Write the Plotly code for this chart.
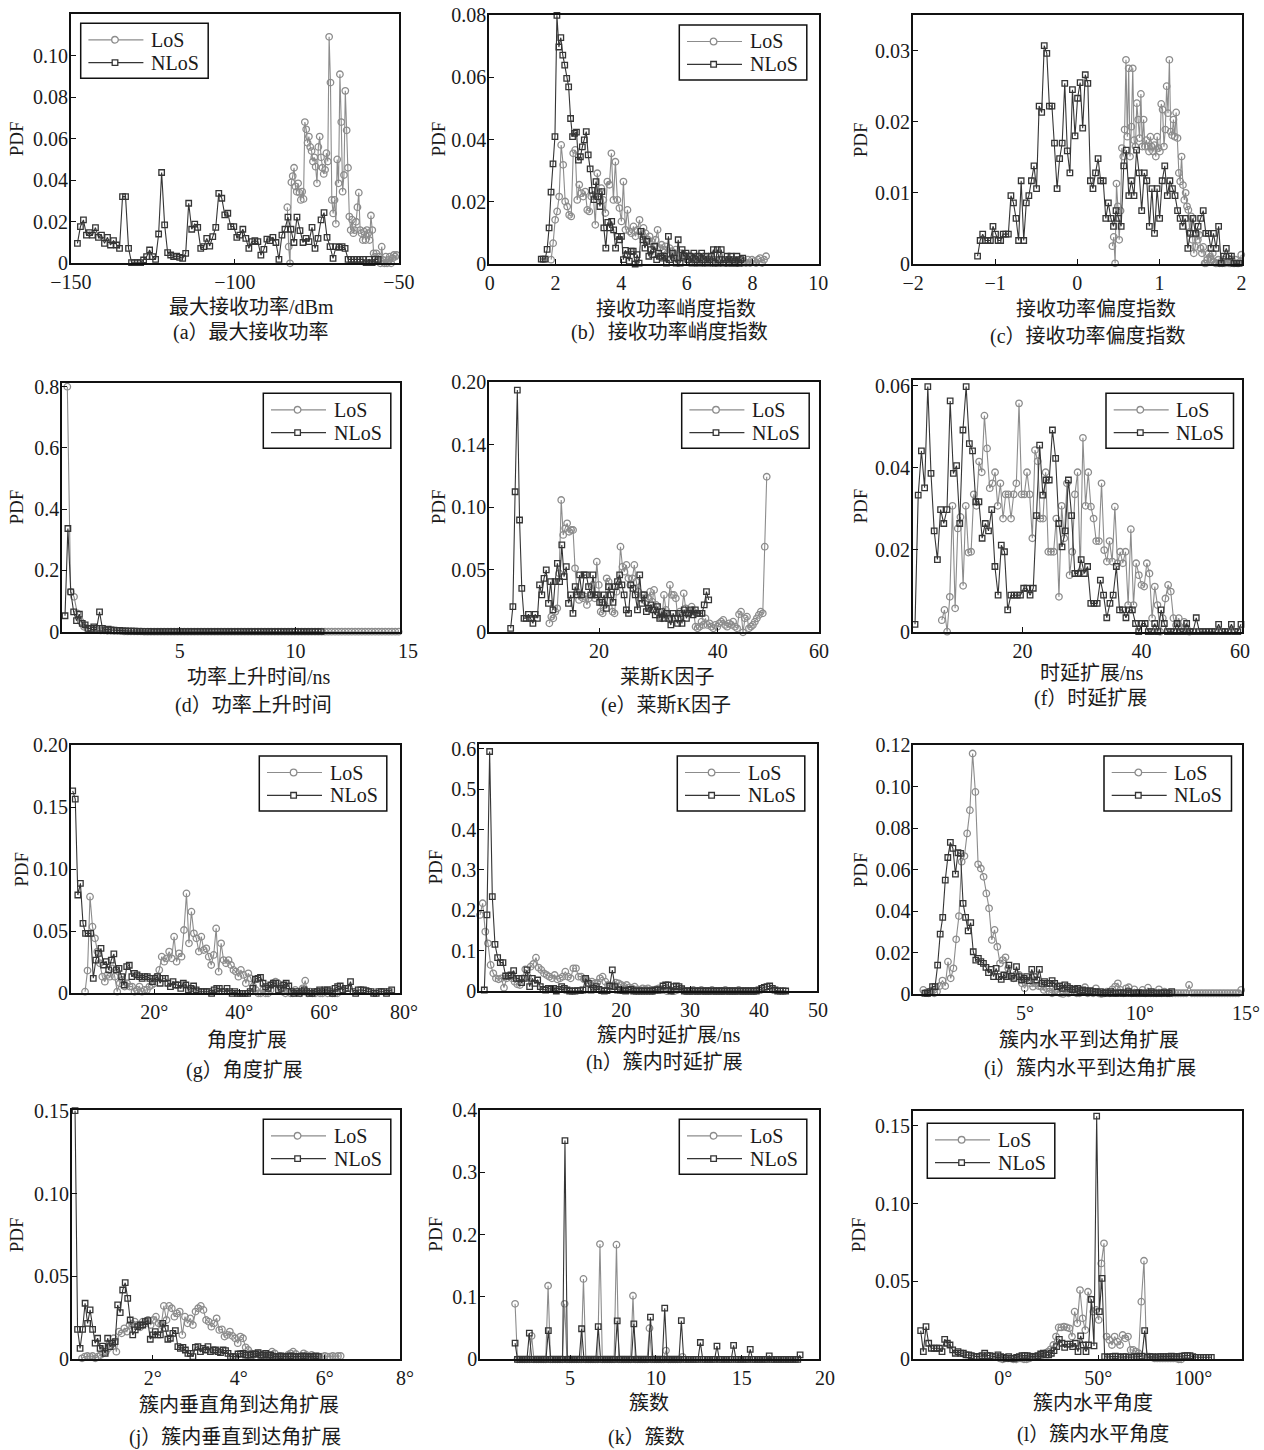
import numpy as np
import plotly.graph_objects as go

# ---------------------------------------------------------------------------
# PDF estimates: every series is (first bin centre, last bin centre) + values
# ---------------------------------------------------------------------------

# (a) 最大接收功率 / dBm
a_los_span = (-84.0, -50.7)
a_los_y = [0.027, 0.008, 0.0, 0.039, 0.042, 0.046, 0.037, 0.0345, 0.0385, 0.034, 0.0305, 0.0345, 0.031,
           0.068, 0.0645, 0.058, 0.061, 0.056, 0.054, 0.049, 0.051, 0.0465, 0.0385, 0.056, 0.061, 0.051,
           0.046, 0.043, 0.045, 0.053, 0.049, 0.109, 0.087, 0.0305, 0.024, 0.0305, 0.019, 0.05, 0.0385,
           0.091, 0.068, 0.0345, 0.0425, 0.083, 0.064, 0.046, 0.0225, 0.016, 0.021, 0.0145, 0.016, 0.020,
           0.027, 0.034, 0.016, 0.0145, 0.0112, 0.0152, 0.0112, 0.016, 0.0145, 0.0112, 0.023, 0.016,
           0.0048, 0.0032, 0.0048, 0.0016, 0.0032, 0.0, 0.008, 0.0016, 0.0, 0.0032, 0.0, 0.0016, 0.0032,
           0.0, 0.0024, 0.004, 0.0032, 0.004]
a_nlos_span = (-148.0, -56.3)
a_nlos_y = [0.0096, 0.0177, 0.0209, 0.0136, 0.0148, 0.0136, 0.0172, 0.0125, 0.0136, 0.0096,
            0.0125, 0.0088, 0.0109, 0.0088, 0.0072, 0.0321, 0.0321, 0.0072, 0.0003, 0.0003,
            0.0003, 0.0003, 0.0016, 0.0032, 0.0064, 0.0032, 0.0019, 0.0141, 0.0437, 0.0185,
            0.0051, 0.0040, 0.0032, 0.0035, 0.0029, 0.0024, 0.0048, 0.0289, 0.0164, 0.0189,
            0.0173, 0.0072, 0.0080, 0.0120, 0.0083, 0.0128, 0.0173, 0.0337, 0.0313, 0.0233,
            0.0241, 0.0177, 0.0177, 0.0125, 0.0136, 0.0164, 0.0120, 0.0072, 0.0104, 0.0109,
            0.0104, 0.0039, 0.0067, 0.0116, 0.0109, 0.0125, 0.0100, 0.0019, 0.0136, 0.0164,
            0.0222, 0.0164, 0.0100, 0.0222, 0.0157, 0.0100, 0.0120, 0.0104, 0.0173, 0.0072,
            0.0120, 0.0209, 0.0244, 0.0125, 0.0080, 0.0024, 0.0080, 0.0077, 0.0080, 0.0072,
            0.0019, 0.0019, 0.0019, 0.0019, 0.0019, 0.0019, 0.0003, 0.0019, 0.0003, 0.0019, 0.0019]

# (b) 接收功率峭度指数
b_los_span = (1.87, 8.41)
b_los_y = [0.0014, 0.0067, 0.0142, 0.0169, 0.0217, 0.0383, 0.0319, 0.0201, 0.0185, 0.0158,
           0.0153, 0.0356, 0.0367, 0.0206, 0.0255, 0.0228, 0.0217, 0.0233, 0.0174, 0.0169,
           0.0217, 0.0222, 0.0126, 0.0292, 0.0228, 0.0244, 0.0206, 0.0164, 0.0265, 0.0255,
           0.0356, 0.0206, 0.0329, 0.0206, 0.018, 0.0137, 0.0265, 0.011, 0.0174, 0.0105,
           0.0099, 0.0121, 0.0089, 0.011, 0.0142, 0.0089, 0.0116, 0.0099, 0.0078, 0.0089,
           0.0073, 0.0057, 0.0078, 0.011, 0.0051, 0.0062, 0.0046, 0.0057, 0.0035, 0.0051,
           0.0041, 0.003, 0.0046, 0.0025, 0.0035, 0.0019, 0.003, 0.0025, 0.0014, 0.0025,
           0.0009, 0.0019, 0.0003, 0.0019, 0.0009, 0.0014, 0.0003, 0.0019, 0.0009, 0.0019,
           0.0003, 0.0014, 0.0003, 0.0009, 0.0003, 0.0014, 0.0009, 0.0003, 0.0014, 0.0003,
           0.0009, 0.0003, 0.0009, 0.0003, 0.0014, 0.0003, 0.0009, 0.0003, 0.0014, 0.0003,
           0.0014, 0.0009, 0.0003, 0.0014, 0.0019, 0.0003, 0.0014, 0.0025]
b_nlos_span = (1.57, 7.70)
b_nlos_y = [0.0016, 0.0016, 0.0016, 0.0047, 0.0116, 0.0231, 0.0322, 0.041, 0.08, 0.0698,
            0.0728, 0.0672, 0.064, 0.0597, 0.057, 0.0468, 0.041, 0.042, 0.0424, 0.0334,
            0.0345, 0.0377, 0.0399, 0.0426, 0.0351, 0.0306, 0.0237, 0.0207, 0.0265, 0.0217,
            0.0185, 0.0233, 0.0116, 0.0051, 0.0134, 0.0116, 0.0137, 0.011, 0.0051, 0.0089,
            0.0078, 0.0089, 0.0014, 0.0044, 0.003, 0.0009, 0.0041, 0.0041, 0.0, 0.003,
            0.0003, 0.0105, 0.0078, 0.0051, 0.0073, 0.0025, 0.0046, 0.003, 0.0057, 0.0014,
            0.0035, 0.0025, 0.0019, 0.0025, 0.0003, 0.0089, 0.0014, 0.0035, 0.0019, 0.0003,
            0.0078, 0.0003, 0.0046, 0.0025, 0.0035, 0.0014, 0.0025, 0.0003, 0.0035, 0.0014,
            0.0025, 0.0003, 0.0035, 0.0014, 0.0025, 0.0003, 0.0014, 0.0025, 0.0046, 0.0003,
            0.0046, 0.0014, 0.0046, 0.0003, 0.0014, 0.0025, 0.0003, 0.0025, 0.0014, 0.0003,
            0.0025, 0.0003, 0.0014, 0.0019]

# (c) 接收功率偏度指数
c_los_span = (0.427, 1.996)
c_los_y = [0.0025, 0.0038, 0.0001, 0.0113, 0.0081, 0.0034, 0.0075, 0.0163, 0.0151, 0.0189,
           0.0287, 0.0179, 0.0275, 0.0151, 0.0193, 0.0275, 0.0174, 0.0165, 0.0226, 0.0203,
           0.0177, 0.0239, 0.0165, 0.0203, 0.0165, 0.0174, 0.0165, 0.0158, 0.0179, 0.0165,
           0.0158, 0.0167, 0.0151, 0.0179, 0.0163, 0.0158, 0.0225, 0.0217, 0.0165, 0.0189,
           0.025, 0.0212, 0.0287, 0.0186, 0.0181, 0.0203, 0.0179, 0.0213, 0.0177, 0.0128,
           0.0116, 0.0151, 0.0111, 0.009, 0.01, 0.0081, 0.0076, 0.0045, 0.0067, 0.0034,
           0.0015, 0.0024, 0.0043, 0.0034, 0.0041, 0.0022, 0.0015, 0.0024, 0.0001, 0.0001,
           0.0006, 0.0015, 0.001, 0.0006, 0.0015, 0.0003, 0.0001, 0.0001, 0.0006, 0.0001,
           0.0003, 0.0001, 0.0006, 0.0001, 0.001, 0.0003, 0.0001, 0.0001, 0.0006, 0.0001,
           0.0001, 0.0006, 0.0001, 0.0001, 0.0003, 0.0013]
c_nlos_span = (-1.215, 1.97)
c_nlos_y = [0.0011, 0.0033, 0.0042, 0.0033, 0.0033, 0.0033, 0.0053, 0.0042, 0.0033, 0.0033,
            0.0042, 0.0042, 0.0042, 0.0096, 0.0086, 0.0064, 0.0033, 0.0117, 0.0033, 0.0086,
            0.0096, 0.0117, 0.0138, 0.0106, 0.0222, 0.0213, 0.0307, 0.0296, 0.0222, 0.0222,
            0.017, 0.0106, 0.0148, 0.017, 0.0254, 0.0159, 0.0128, 0.0245, 0.018, 0.0233,
            0.0255, 0.0191, 0.0266, 0.0254, 0.0117, 0.0106, 0.0128, 0.0148, 0.0117, 0.0117,
            0.0064, 0.0086, 0.0064, 0.0053, 0.0075, 0.0064, 0.0053, 0.0138, 0.016, 0.0096,
            0.0117, 0.0096, 0.016, 0.0128, 0.0075, 0.0128, 0.0117, 0.0053, 0.0106, 0.0043,
            0.0106, 0.0064, 0.0117, 0.0138, 0.0096, 0.0117, 0.0106, 0.0096, 0.0075, 0.0064,
            0.0053, 0.0064, 0.0022, 0.0043, 0.0064, 0.0043, 0.0053, 0.0064, 0.0075, 0.0043,
            0.0043, 0.0022, 0.0043, 0.0022, 0.0053, 0.0001, 0.0011, 0.0022, 0.0011, 0.0011,
            0.0001, 0.0001, 0.0001]

# (d) 功率上升时间 / ns
d_los_span = (0.14, 14.45)
d_los_y = [0.8, 0.13, 0.114, 0.06, 0.033, 0.016, 0.011, 0.008, 0.006, 0.005,
           0.004, 0.004, 0.003, 0.003, 0.002, 0.002, 0.002, 0.001, 0.001, 0.001,
           0.001, 0.001, 0.001, 0, 0, 0, 0, 0, 0, 0,
           0, 0, 0, 0, 0, 0, 0, 0, 0, 0,
           0, 0, 0, 0, 0, 0, 0, 0, 0, 0,
           0, 0, 0, 0, 0, 0, 0, 0, 0, 0,
           0, 0, 0, 0, 0, 0, 0, 0, 0, 0,
           0, 0, 0, 0, 0, 0, 0, 0, 0, 0,
           0, 0, 0, 0, 0, 0, 0, 0, 0, 0,
           0, 0, 0, 0, 0, 0, 0, 0, 0, 0]
d_nlos_span = (0.04, 11.1)
d_nlos_y = [0.052, 0.337, 0.13, 0.065, 0.036, 0.057, 0.027, 0.022, 0.011, 0.011,
            0.016, 0.011, 0.065, 0.011, 0.006, 0.008, 0.006, 0.005, 0.004, 0.004,
            0.003, 0.003, 0.002, 0.002, 0.002, 0.001, 0.001, 0.001, 0.001, 0.001,
            0, 0, 0, 0, 0, 0, 0, 0, 0, 0,
            0, 0, 0, 0, 0, 0, 0, 0, 0, 0,
            0, 0, 0, 0, 0, 0, 0, 0, 0, 0,
            0, 0, 0, 0, 0, 0, 0, 0, 0, 0,
            0, 0, 0, 0, 0, 0, 0, 0, 0, 0,
            0, 0, 0, 0, 0, 0, 0, 0, 0, 0]

# (e) 莱斯K因子
e_los_span = (11.63, 48.26)
e_los_y = [0.0072, 0.0125, 0.0112, 0.0165, 0.0192, 0.0472, 0.1059, 0.0779, 0.0832, 0.0872,
           0.0805, 0.0819, 0.0819, 0.0512, 0.0325, 0.0259, 0.0299, 0.0272, 0.0285, 0.0219,
           0.0272, 0.0299, 0.0379, 0.0272, 0.0565, 0.0379, 0.0165, 0.0152, 0.0219, 0.0432,
           0.0405, 0.0299, 0.0165, 0.0152, 0.0325, 0.0379, 0.0685, 0.0525, 0.0485, 0.0539,
           0.0432, 0.0379, 0.0432, 0.0539, 0.0405, 0.0325, 0.0272, 0.0299, 0.0299, 0.0245,
           0.0272, 0.0325, 0.0245, 0.0339, 0.0219, 0.0165, 0.0125, 0.0112, 0.0299, 0.0179,
           0.0139, 0.0379, 0.0299, 0.0299, 0.0272, 0.0112, 0.0165, 0.0152, 0.0312, 0.0192,
           0.0165, 0.0165, 0.0205, 0.0165, 0.0045, 0.0032, 0.0045, 0.0085, 0.0059, 0.0112,
           0.0059, 0.0072, 0.0045, 0.0032, 0.0059, 0.0045, 0.0072, 0.0085, 0.0099, 0.0059,
           0.0045, 0.0072, 0.0059, 0.0085, 0.0045, 0.0032, 0.0144, 0.0165, 0.0, 0.0112,
           0.0125, 0.0032, 0.0045, 0.0059, 0.0085, 0.0112, 0.0139, 0.0165, 0.0152, 0.0685,
           0.1245]
e_nlos_span = (5.11, 38.48)
e_nlos_y = [0.0032, 0.0205, 0.1125, 0.1939, 0.0899, 0.0352, 0.0112, 0.0112, 0.0144, 0.0112,
            0.0072, 0.0144, 0.0112, 0.0379, 0.0299, 0.0432, 0.0499, 0.0232, 0.0405, 0.0179,
            0.0405, 0.0552, 0.0405, 0.0699, 0.0445, 0.0525, 0.0232, 0.0299, 0.0152, 0.0365,
            0.0299, 0.0459, 0.0299, 0.0459, 0.0459, 0.0365, 0.0299, 0.0459, 0.0299, 0.0299,
            0.024, 0.024, 0.0299, 0.0192, 0.0365, 0.0299, 0.024, 0.0365, 0.0405, 0.0459,
            0.0379, 0.0299, 0.0179, 0.0152, 0.0379, 0.0352, 0.0299, 0.0179, 0.0459, 0.0232,
            0.0299, 0.0165, 0.0192, 0.0219, 0.0179, 0.0139, 0.0205, 0.0112, 0.0165, 0.0112,
            0.0152, 0.0112, 0.0059, 0.0152, 0.0112, 0.0072, 0.0152, 0.0072, 0.0179, 0.0112,
            0.0152, 0.0179, 0.0139, 0.0179, 0.0152, 0.0152, 0.0152, 0.0219, 0.0325, 0.0259]

# (f) 时延扩展 / ns
f_los_span = (6.41, 48.07)
f_los_y = [0.0028, 0.0053, 0.0, 0.0085, 0.0307, 0.0057, 0.0252, 0.028, 0.0112, 0.0307,
           0.0193, 0.0195, 0.0335, 0.0307, 0.0415, 0.0389, 0.0527, 0.0447, 0.035, 0.0362,
           0.0389, 0.0307, 0.0362, 0.0276, 0.0335, 0.0335, 0.0276, 0.0335, 0.0362, 0.0557,
           0.0335, 0.0335, 0.0389, 0.0335, 0.0228, 0.0443, 0.0416, 0.0276, 0.0276, 0.0389,
           0.0195, 0.0195, 0.0195, 0.0276, 0.0085, 0.0307, 0.0228, 0.0362, 0.0138, 0.0195,
           0.0335, 0.0389, 0.0145, 0.0473, 0.0307, 0.0389, 0.0305, 0.0276, 0.0221, 0.0221,
           0.0362, 0.0199, 0.0171, 0.0221, 0.0171, 0.0305, 0.0167, 0.0195, 0.0167, 0.0195,
           0.0065, 0.025, 0.0065, 0.0167, 0.0138, 0.0114, 0.011, 0.0167, 0.0142, 0.0033,
           0.011, 0.0065, 0.0, 0.0033, 0.0081, 0.0114, 0.0098, 0.0033, 0.0016, 0.0033,
           0.0008, 0.0024, 0.0008, 0.0]
f_nlos_span = (1.9, 56.75)
f_nlos_y = [0.0018, 0.0333, 0.0441, 0.0351, 0.0598, 0.0386, 0.0246, 0.0176, 0.0298, 0.0264,
            0.0298, 0.0563, 0.0386, 0.0405, 0.0264, 0.0492, 0.0598, 0.0459, 0.0441, 0.0317,
            0.0317, 0.0228, 0.0264, 0.0246, 0.0298, 0.0159, 0.0089, 0.0211, 0.0195, 0.0053,
            0.0089, 0.0089, 0.0089, 0.0089, 0.0106, 0.0106, 0.0089, 0.0106, 0.0283, 0.0455,
            0.0333, 0.037, 0.037, 0.0492, 0.0423, 0.0264, 0.0207, 0.0246, 0.037, 0.0283,
            0.0142, 0.0142, 0.0176, 0.0142, 0.0159, 0.0069, 0.0069, 0.0069, 0.0126, 0.0089,
            0.0034, 0.0069, 0.0089, 0.0159, 0.0053, 0.0053, 0.0034, 0.0053, 0.0053, 0.002,
            0.0, 0.002, 0.002, 0.0, 0.0, 0.002, 0.0, 0.0053, 0.002, 0.0,
            0.0, 0.0, 0.002, 0.0, 0.0, 0.002, 0.0, 0.0, 0.0034, 0.0,
            0.0, 0.0, 0.0, 0.0, 0.0, 0.0018, 0.0, 0.0, 0.0, 0.0018,
            0.0, 0.0, 0.0018]

# (g) 角度扩展 / deg
g_los_span = (3.69, 63.06)
g_los_y = [0.0013, 0.0183, 0.0779, 0.0537, 0.0443, 0.0336, 0.0242, 0.0134, 0.0094, 0.0148,
           0.0134, 0.0201, 0.0134, 0.0013, 0.0081, 0.0107, 0.0054, 0.0081, 0.0054, 0.0054,
           0.0013, 0.0027, 0.0054, 0.0013, 0.0027, 0.0027, 0.0054, 0.0067, 0.0081, 0.0134,
           0.0188, 0.0295, 0.0255, 0.0282, 0.0336, 0.0282, 0.0456, 0.0255, 0.0322, 0.0295,
           0.051, 0.0805, 0.0403, 0.0658, 0.0483, 0.0443, 0.0336, 0.0456, 0.0349, 0.0362,
           0.0295, 0.0228, 0.0309, 0.0523, 0.0174, 0.0403, 0.0268, 0.0242, 0.0268, 0.0228,
           0.0188, 0.0174, 0.0134, 0.0188, 0.0148, 0.0081, 0.0161, 0.0121, 0.0054, 0.0027,
           0.0, 0.0, 0.0027, 0.0, 0.0, 0.0027, 0.0081, 0.0094, 0.0081, 0.0054,
           0.0013, 0.0, 0.0013, 0.0, 0.0, 0.0027, 0.0013, 0.0, 0.004, 0.0102,
           0.0, 0.0013, 0.0, 0.0, 0.0013, 0.0, 0.0, 0.0013, 0.0, 0.0027,
           0.0, 0.0, 0.0]
g_nlos_span = (0.78, 75.84)
g_nlos_y = [0.1632, 0.1565, 0.0792, 0.0886, 0.0564, 0.0483, 0.0483, 0.0483, 0.0121, 0.0268,
            0.0322, 0.0362, 0.0228, 0.0255, 0.0188, 0.0268, 0.0317, 0.0188, 0.0201, 0.0134,
            0.0067, 0.0215, 0.0226, 0.0134, 0.0161, 0.0148, 0.0134, 0.0121, 0.0134, 0.0134,
            0.0121, 0.0094, 0.0121, 0.0134, 0.0081, 0.0121, 0.0121, 0.0081, 0.0054, 0.0094,
            0.0067, 0.0067, 0.004, 0.0081, 0.0067, 0.0027, 0.004, 0.0059, 0.0027, 0.0013,
            0.0013, 0.0013, 0.0013, 0.0013, 0.0, 0.0027, 0.004, 0.004, 0.0013, 0.0013,
            0.004, 0.0013, 0.0, 0.0013, 0.0, 0.0, 0.0, 0.0, 0.0, 0.0013,
            0.004, 0.0113, 0.0121, 0.0129, 0.0081, 0.0054, 0.004, 0.0067, 0.0081, 0.0081,
            0.0027, 0.004, 0.0067, 0.0081, 0.0059, 0.0013, 0.0, 0.0013, 0.0, 0.0013,
            0.0027, 0.0013, 0.0, 0.0, 0.0013, 0.0013, 0.0027, 0.0013, 0.0027, 0.0027,
            0.0013, 0.0, 0.004, 0.0054, 0.0059, 0.0027, 0.004, 0.004, 0.0094, 0.0013,
            0.0, 0.0027, 0.0027, 0.0027, 0.0021, 0.0013, 0.0013, 0.0, 0.0, 0.0013,
            0.0013, 0.0013, 0.0, 0.0013, 0.0027]

# (h) 簇内时延扩展 / ns
h_los_span = (-0.5, 39.37)
h_los_y = [0.1884, 0.2174, 0.1471, 0.1182, 0.0645, 0.0438, 0.0314, 0.0289, 0.0314, 0.0083,
           0.0314, 0.0372, 0.0314, 0.0231, 0.0165, 0.0149, 0.0314, 0.0537, 0.0355, 0.0603,
           0.0669, 0.0826, 0.0579, 0.0521, 0.0438, 0.0397, 0.0355, 0.0314, 0.0397, 0.0289,
           0.0314, 0.0355, 0.0479, 0.0355, 0.0314, 0.0562, 0.0562, 0.0355, 0.0355, 0.0289,
           0.0273, 0.019, 0.0231, 0.019, 0.0207, 0.0314, 0.0355, 0.0231, 0.0149, 0.0107,
           0.0124, 0.0207, 0.019, 0.0149, 0.0107, 0.0149, 0.0091, 0.0066, 0.0107, 0.0041,
           0.0025, 0.0066, 0.0041, 0.0066, 0.0025, 0.0, 0.0041, 0.0066, 0.0041, 0.0058,
           0.0, 0.0025, 0.0, 0.0, 0.0025, 0.0058, 0.0025, 0.0, 0.0, 0.0,
           0.0025, 0.0, 0.0, 0.0025, 0.0, 0.0, 0.0, 0.0025, 0.0, 0.0,
           0.0, 0.0, 0.0025, 0.0, 0.0, 0.0, 0.0, 0.0025, 0.0, 0.0,
           0.0, 0.0, 0.0, 0.0]
h_nlos_span = (0.13, 43.87)
h_nlos_y = [0.0025, 0.1884, 0.5934, 0.2339, 0.1157, 0.0826, 0.0702, 0.0702, 0.0372, 0.0372,
            0.0397, 0.0504, 0.0314, 0.0314, 0.0207, 0.0314, 0.0521, 0.0107, 0.0314, 0.019,
            0.0273, 0.0107, 0.0041, 0.0025, 0.0066, 0.0041, 0.0066, 0.0, 0.0041, 0.0107,
            0.0066, 0.0025, 0.0, 0.0, 0.0, 0.0008, 0.0008, 0.0025, 0.0314, 0.019,
            0.0025, 0.0066, 0.0107, 0.0041, 0.0008, 0.0, 0.0008, 0.0124, 0.0521, 0.0107,
            0.0025, 0.0025, 0.0008, 0.0, 0.0025, 0.0041, 0.0, 0.0, 0.0, 0.0,
            0.0, 0.0, 0.0, 0.0, 0.0025, 0.0025, 0.0025, 0.0124, 0.0149, 0.0149,
            0.0, 0.0107, 0.0124, 0.0107, 0.0058, 0.0, 0.0,
            0.0, 0.0, 0.0, 0.0, 0.0, 0.0, 0.0, 0.0, 0.0, 0.0,
            0.0, 0.0, 0.0, 0.0, 0.0, 0.0, 0.0, 0.0, 0.0, 0.0,
            0.0, 0.0, 0.0, 0.0, 0.0, 0.0,
            0.0025, 0.0066, 0.0091, 0.0107, 0.0124, 0.0066, 0.0025, 0.0, 0.0, 0.0, 0.0]

# (i) 簇内水平到达角扩展 / deg
i_los_span = (0.58, 14.40)
i_los_y = [0.0021, 0.0008, 0.0005, 0.0018, 0.0005, 0.0013, 0.004, 0.0066, 0.004, 0.0157,
           0.0077, 0.0125, 0.0265, 0.0377, 0.0639, 0.0666, 0.0775, 0.0887, 0.116, 0.0975,
           0.0626, 0.0606, 0.0566, 0.0486, 0.0414, 0.0262, 0.031, 0.0229, 0.0149, 0.0165,
           0.0178, 0.0125, 0.0085, 0.0077, 0.0098, 0.0093, 0.0053, 0.0029, 0.0066, 0.0053,
           0.0037, 0.0053, 0.004, 0.0037, 0.0021, 0.0029, 0.0013, 0.0005, 0.0018, 0.0013,
           0.0005, 0.0002, 0.0018, 0.0005, 0.0013, 0.0024, 0.0005, 0.0005, 0.0013, 0.0034,
           0.0005, 0.0013, 0.0005, 0.0029, 0.0005, 0.0002, 0.0005, 0.0013, 0.0005, 0.0024,
           0.0037, 0.0053, 0.0021, 0.0005, 0.0029, 0.0034, 0.0005, 0.0024, 0.0005, 0.0005,
           0.0021, 0.0005, 0.0032, 0.0005, 0.0005, 0.0005, 0.0024, 0.0005, 0.0013, 0.0005,
           0.0005, 0.0005, 0.0005, 0.0005, 0.0005, 0.0005, 0.0005, 0.0045, 0.0005, 0.0005,
           0.0005, 0.0005, 0.0005, 0.0005, 0.0005, 0.0005, 0.0005, 0.0005, 0.0005, 0.0005,
           0.0005, 0.0005, 0.0005, 0.0005, 0.0005, 0.0005, 0.0021]
i_nlos_span = (0.65, 11.38)
i_nlos_y = [0.0005, 0.0005, 0.0013, 0.0037, 0.0037, 0.0141, 0.029, 0.0371, 0.055, 0.0659,
            0.0732, 0.0703, 0.0579, 0.0682, 0.0679, 0.0438, 0.0371, 0.0306, 0.0345, 0.0205,
            0.0165, 0.0173, 0.0157, 0.0149, 0.013, 0.0104, 0.012, 0.0085, 0.0125, 0.0085,
            0.0072, 0.0093, 0.0085, 0.0141, 0.0088, 0.0077, 0.0133, 0.0085, 0.0069, 0.0077,
            0.0085, 0.0066, 0.012, 0.0085, 0.0069, 0.012, 0.0053, 0.0061, 0.0053, 0.0053,
            0.0066, 0.0053, 0.0037, 0.004, 0.0029, 0.0045, 0.0037, 0.0029, 0.0021, 0.0024,
            0.0029, 0.0018, 0.0021, 0.0018, 0.0013, 0.0018, 0.0013, 0.0013, 0.0008, 0.0013,
            0.0005, 0.0008, 0.0005, 0.0013, 0.0005, 0.0005,
            0.0005, 0.0008, 0.0005, 0.0005, 0.0013, 0.0005, 0.0005, 0.0005, 0.0008, 0.0005,
            0.0005, 0.0005, 0.0005, 0.0013, 0.0005, 0.0005, 0.0005, 0.0005, 0.0008, 0.0005,
            0.0005, 0.0013]

# (j) 簇内垂直到达角扩展 / deg
j_los_span = (0.357, 6.37)
j_los_y = [0.0006, 0.0016, 0.002, 0.0016, 0.002, 0.0006, 0.0016, 0.0026, 0.0036, 0.0046,
           0.0066, 0.0086, 0.0127, 0.0046, 0.0167, 0.0157, 0.0187, 0.0167, 0.0207, 0.0213,
           0.0227, 0.0207, 0.0193, 0.0227, 0.0217, 0.0237, 0.0207, 0.0237, 0.0257, 0.0217,
           0.0207, 0.0322, 0.0237, 0.0322, 0.0308, 0.0257, 0.0277, 0.0288, 0.0147, 0.0257,
           0.0217, 0.0247, 0.0207, 0.0288, 0.0308, 0.0322, 0.0298, 0.0237, 0.0227, 0.0197,
           0.0217, 0.0247, 0.0177, 0.0181, 0.0137, 0.0147, 0.0167, 0.0141, 0.0127, 0.0097,
           0.0137, 0.0127, 0.0072, 0.0056, 0.0036, 0.0026, 0.0016, 0.0036, 0.002, 0.0016,
           0.0016, 0.0016, 0.0046, 0.0036, 0.0016, 0.002, 0.0016, 0.0016, 0.0026, 0.0036,
           0.0046, 0.0032, 0.0016, 0.002, 0.0036, 0.0026, 0.0016, 0.0026, 0.0016, 0.0016,
           0.0016, 0.0016, 0.002, 0.0016, 0.0016, 0.002, 0.0016, 0.002, 0.002]
j_nlos_span = (0.194, 5.85)
j_nlos_y = [0.15, 0.0181, 0.0066, 0.0181, 0.0338, 0.0217, 0.0298, 0.0181, 0.0097, 0.0127,
            0.0066, 0.008, 0.0036, 0.0127, 0.0076, 0.0097, 0.0107, 0.0328, 0.0282, 0.0418,
            0.0462, 0.0368, 0.0237, 0.0147, 0.0177, 0.0197, 0.0207, 0.0207, 0.0227, 0.0233,
            0.0121, 0.0147, 0.0167, 0.0147, 0.0147, 0.0217, 0.0187, 0.0121, 0.0127, 0.0157,
            0.0173, 0.0076, 0.0066, 0.0072, 0.0056, 0.0036, 0.0036, 0.0016, 0.0072, 0.0076,
            0.0046, 0.0066, 0.0056, 0.0076, 0.0046, 0.0056, 0.0056, 0.0046, 0.004, 0.0056,
            0.0052, 0.0036, 0.0016, 0.0016, 0.0016, 0.0032, 0.0032, 0.0036, 0.0026, 0.0026,
            0.0026, 0.0032, 0.0032, 0.004, 0.0026, 0.0026, 0.0036, 0.0026, 0.0026, 0.0016,
            0.0016, 0.0016, 0.002, 0.0016, 0.0016, 0.0016, 0.002, 0.0016, 0.0016, 0.0016,
            0.0016, 0.002, 0.0016, 0.0016, 0.0016, 0.0016, 0.002, 0.0016]

# (k) 簇数
k_los_span = (1.80, 11.55)
k_los_y = [0.089, 0, 0, 0, 0, 0, 0, 0.0375, 0, 0,
           0, 0, 0, 0, 0.118, 0, 0, 0, 0, 0,
           0, 0.089, 0, 0, 0, 0, 0, 0, 0, 0.129,
           0, 0, 0, 0, 0, 0, 0.185, 0, 0, 0,
           0, 0, 0, 0.184, 0, 0, 0, 0, 0, 0,
           0.102, 0, 0, 0, 0, 0, 0, 0.05, 0, 0,
           0, 0, 0, 0, 0.014, 0, 0, 0, 0, 0,
           0, 0.004]
k_nlos_span = (1.80, 18.40)
k_nlos_y = [0.026, 0, 0, 0, 0, 0, 0.042, 0, 0, 0,
            0, 0, 0, 0, 0.046, 0, 0, 0, 0, 0,
            0, 0.351, 0, 0, 0, 0, 0, 0, 0.049, 0,
            0, 0, 0, 0, 0, 0.0525, 0, 0, 0, 0,
            0, 0, 0, 0.0617, 0, 0, 0, 0, 0, 0,
            0.057, 0, 0, 0, 0, 0, 0, 0.0676, 0, 0,
            0, 0, 0, 0.082, 0, 0, 0, 0, 0, 0,
            0.062, 0, 0, 0, 0, 0, 0, 0, 0.027, 0,
            0, 0, 0, 0, 0, 0.021, 0, 0, 0, 0,
            0, 0, 0.0225, 0, 0, 0, 0, 0, 0, 0.016,
            0, 0, 0, 0, 0, 0, 0, 0.0054, 0, 0,
            0, 0, 0, 0, 0, 0, 0, 0, 0, 0,
            0.007]

# (l) 簇内水平角度 / deg
l_los_span = (-1.75, 93.7)
l_los_y = [0.0006, 0.0, 0.0006, 0.0006, 0.0006, 0.0, 0.0, 0.0006, 0.0006, 0.0,
           0.0, 0.0006, 0.0017, 0.0017, 0.0017, 0.0021, 0.0028, 0.0039, 0.0049, 0.0064,
           0.0092, 0.0146, 0.0205, 0.0205, 0.021, 0.0205, 0.0199, 0.0146, 0.0306, 0.0231,
           0.0445, 0.0263, 0.0188, 0.0434, 0.0385, 0.0306, 0.0317, 0.0253, 0.0616, 0.0745,
           0.0146, 0.0124, 0.0092, 0.0146, 0.0113, 0.0092, 0.0156, 0.0135, 0.0146, 0.006,
           0.006, 0.0049, 0.0039, 0.037, 0.0633, 0.0017, 0.0017, 0.0013, 0.0006, 0.0006,
           0.0006, 0.0006, 0.0006, 0.0006, 0.0006, 0.0006, 0.0006, 0.0, 0.0]
l_nlos_span = (-43.5, 109.5)
l_nlos_y = [0.0184, 0.0049, 0.021, 0.0103, 0.0071, 0.0071, 0.0071, 0.0071, 0.0049, 0.0128,
            0.0103, 0.0092, 0.006, 0.0039, 0.0049, 0.0039, 0.0039, 0.0028, 0.0028, 0.0024,
            0.0017, 0.0017, 0.0017, 0.0024, 0.0039, 0.0024, 0.0024, 0.0017, 0.0017, 0.0028,
            0.0017, 0.0013, 0.0006, 0.0017, 0.0006, 0.0006, 0.0013, 0.0017, 0.0024, 0.0024,
            0.0024, 0.0017, 0.0017, 0.0017, 0.0024, 0.0034, 0.0039, 0.0028, 0.0028, 0.0039,
            0.0056, 0.0081, 0.0128, 0.0103, 0.0077, 0.0098, 0.0098, 0.0081, 0.0103, 0.0049,
            0.015, 0.0092, 0.0049, 0.0092, 0.0385, 0.0086, 0.1562, 0.0306, 0.052, 0.0017,
            0.0013, 0.0017, 0.0017, 0.0021, 0.0017, 0.0013, 0.0017, 0.0017, 0.0013, 0.0013,
            0.0017, 0.0017, 0.0017, 0.0021, 0.0184, 0.0013, 0.0017, 0.0017, 0.0013, 0.0017,
            0.0017, 0.0017, 0.0017, 0.0017, 0.0021, 0.0017, 0.0017, 0.0017, 0.0021, 0.0024,
            0.0024, 0.0024, 0.0017, 0.0013, 0.0013, 0.0013, 0.0013, 0.0013, 0.0013, 0.0013]

# ---------------------------------------------------------------------------
# page geometry and styling
# ---------------------------------------------------------------------------
W, H = 1264, 1450
SERIF = "Liberation Serif, Noto Sans CJK SC, serif"
TXT = "#1a1a1a"
LOS_C = "#8c8c8c"
NLOS_C = "#353535"
TICK_SIZE = 20


def fx(px):
    return px / W


def fy(px):
    return 1 - px / H


def deg(vals):
    return [f"{v}°" for v in vals]


def num(vals):
    return [("−" + str(abs(v))) if v < 0 else str(v) for v in vals]


panels = [
    dict(los=(a_los_span, a_los_y), nlos=(a_nlos_span, a_nlos_y),
         box=(70.7, 14.0, 399.0, 263.3), xr=[-150.05, -49.95], yr=[0, 0.12],
         xt=[-150, -100, -50], xtt=num([-150, -100, -50]),
         yt=[0, 0.02, 0.04, 0.06, 0.08, 0.10], ytt=["0", "0.02", "0.04", "0.06", "0.08", "0.10"],
         title="最大接收功率/dBm", title_xy=(251, 307), cap="(a）最大接收功率", cap_xy=(251, 333),
         pdf_x=16.7, legend=(80.7, 23.3), edge=None),
    dict(los=(b_los_span, b_los_y), nlos=(b_nlos_span, b_nlos_y),
         box=(489.0, 15.0, 819.0, 264.0), xr=[-0.02, 10.02], yr=[0, 0.0801],
         xt=[0, 2, 4, 6, 8, 10], xtt=num([0, 2, 4, 6, 8, 10]),
         yt=[0, 0.02, 0.04, 0.06, 0.08], ytt=["0", "0.02", "0.04", "0.06", "0.08"],
         title="接收功率峭度指数", title_xy=(676, 309), cap="(b）接收功率峭度指数", cap_xy=(669, 333),
         pdf_x=438, legend=(679.3, 25.0), edge=None),
    dict(los=(c_los_span, c_los_y), nlos=(c_nlos_span, c_nlos_y),
         box=(912.7, 15.0, 1242.0, 264.0), xr=[-2.005, 2.005], yr=[0, 0.035],
         xt=[-2, -1, 0, 1, 2], xtt=num([-2, -1, 0, 1, 2]),
         yt=[0, 0.01, 0.02, 0.03], ytt=["0", "0.01", "0.02", "0.03"],
         title="接收功率偏度指数", title_xy=(1096, 309), cap="(c）接收功率偏度指数", cap_xy=(1088, 336),
         pdf_x=860.7, legend=None, edge=None),
    dict(los=(d_los_span, d_los_y), nlos=(d_nlos_span, d_nlos_y),
         box=(62.0, 383.3, 400.0, 631.7), xr=[-0.09, 14.51], yr=[0, 0.811],
         xt=[5, 10], xtt=["5", "10"],
         yt=[0, 0.2, 0.4, 0.6, 0.8], ytt=["0", "0.2", "0.4", "0.6", "0.8"],
         title="功率上升时间/ns", title_xy=(259, 677), cap="(d）功率上升时间", cap_xy=(254, 705),
         pdf_x=16.0, legend=(263.3, 393.3), edge=("15", 408.3)),
    dict(los=(e_los_span, e_los_y), nlos=(e_nlos_span, e_nlos_y),
         box=(489.0, 382.3, 819.0, 632.3), xr=[1.46, 57.07], yr=[0, 0.2001],
         xt=[20, 40], xtt=["20", "40"],
         yt=[0, 0.05, 0.10, 0.15, 0.20], ytt=["0", "0.05", "0.10", "0.14", "0.20"],
         title="莱斯K因子", title_xy=(667, 677), cap="(e）莱斯K因子", cap_xy=(666, 705),
         pdf_x=438, legend=(681.7, 393.3), edge=("60", 819.0)),
    dict(los=(f_los_span, f_los_y), nlos=(f_nlos_span, f_nlos_y),
         box=(912.7, 380.0, 1242.0, 631.7), xr=[1.51, 56.92], yr=[0, 0.0614],
         xt=[20, 40], xtt=["20", "40"],
         yt=[0, 0.02, 0.04, 0.06], ytt=["0", "0.02", "0.04", "0.06"],
         title="时延扩展/ns", title_xy=(1092, 673), cap="(f）时延扩展", cap_xy=(1090, 698),
         pdf_x=860.7, legend=(1106.0, 393.3), edge=("60", 1240.0)),
    dict(los=(g_los_span, g_los_y), nlos=(g_nlos_span, g_nlos_y),
         box=(70.7, 745.0, 400.0, 993.3), xr=[0.31, 77.8], yr=[0, 0.2001],
         xt=[20, 40, 60], xtt=deg([20, 40, 60]),
         yt=[0, 0.05, 0.10, 0.15, 0.20], ytt=["0", "0.05", "0.10", "0.15", "0.20"],
         title="角度扩展", title_xy=(247, 1040), cap="(g）角度扩展", cap_xy=(244, 1070),
         pdf_x=20.7, legend=(259.3, 756.0), edge=("80°", 404.0)),
    dict(los=(h_los_span, h_los_y), nlos=(h_nlos_span, h_nlos_y),
         box=(479.0, 744.0, 817.3, 991.0), xr=[-0.64, 48.46], yr=[0, 0.612],
         xt=[10, 20, 30, 40], xtt=["10", "20", "30", "40"],
         yt=[0, 0.1, 0.2, 0.3, 0.4, 0.5, 0.6], ytt=["0", "0.1", "0.2", "0.3", "0.4", "0.5", "0.6"],
         title="簇内时延扩展/ns", title_xy=(669, 1035), cap="(h）簇内时延扩展", cap_xy=(664, 1062),
         pdf_x=435, legend=(677.3, 756.0), edge=("50", 818.3)),
    dict(los=(i_los_span, i_los_y), nlos=(i_nlos_span, i_nlos_y),
         box=(913.3, 745.0, 1242.3, 994.3), xr=[0.145, 14.45], yr=[0, 0.1201],
         xt=[5, 10], xtt=deg([5, 10]),
         yt=[0, 0.02, 0.04, 0.06, 0.08, 0.10, 0.12],
         ytt=["0", "0.02", "0.04", "0.06", "0.08", "0.10", "0.12"],
         title="簇内水平到达角扩展", title_xy=(1089, 1040), cap="(i）簇内水平到达角扩展", cap_xy=(1090, 1068),
         pdf_x=860.7, legend=(1104.0, 756.0), edge=("15°", 1246.0)),
    dict(los=(j_los_span, j_los_y), nlos=(j_nlos_span, j_nlos_y),
         box=(71.7, 1110.0, 400.0, 1359.3), xr=[0.116, 7.75], yr=[0, 0.1504],
         xt=[2, 4, 6], xtt=deg([2, 4, 6]),
         yt=[0, 0.05, 0.10, 0.15], ytt=["0", "0.05", "0.10", "0.15"],
         title="簇内垂直角到达角扩展", title_xy=(239, 1405), cap="(j）簇内垂直到达角扩展", cap_xy=(235, 1437),
         pdf_x=16.7, legend=(263.3, 1119.3), edge=("8°", 405.0)),
    dict(los=(k_los_span, k_los_y), nlos=(k_nlos_span, k_nlos_y),
         box=(480.0, 1110.0, 819.0, 1359.3), xr=[-0.243, 19.5], yr=[0, 0.4001],
         xt=[5, 10, 15], xtt=["5", "10", "15"],
         yt=[0, 0.1, 0.2, 0.3, 0.4], ytt=["0", "0.1", "0.2", "0.3", "0.4"],
         title="簇数", title_xy=(649, 1403), cap="(k）簇数", cap_xy=(647, 1437),
         pdf_x=436, legend=(679.3, 1119.3), edge=("20", 825.0)),
    dict(los=(l_los_span, l_los_y), nlos=(l_nlos_span, l_nlos_y),
         box=(912.7, 1110.7, 1242.3, 1359.3), xr=[-47.7, 125.8], yr=[0, 0.1597],
         xt=[0, 50, 100], xtt=deg([0, 50, 100]),
         yt=[0, 0.05, 0.10, 0.15], ytt=["0", "0.05", "0.10", "0.15"],
         title="簇内水平角度", title_xy=(1093, 1403), cap="(l）簇内水平角度", cap_xy=(1093, 1434),
         pdf_x=858.3, legend=(927.3, 1123.3), edge=None),
]

fig = go.Figure()
layout = dict(width=W, height=H, margin=dict(l=0, r=0, t=0, b=0, autoexpand=False),
              paper_bgcolor="white", plot_bgcolor="white", showlegend=False,
              font=dict(family=SERIF, color=TXT))

tick_font = dict(family=SERIF, size=TICK_SIZE, color=TXT)
text_font = dict(family=SERIF, size=20, color=TXT)

for n, p in enumerate(panels, start=1):
    xa, ya = ("x", "y") if n == 1 else (f"x{n}", f"y{n}")
    x0, y0, x1, y1 = p["box"]

    for (span, vals), color, symbol, size in [(p["los"], LOS_C, "circle-open", 6.5),
                                              (p["nlos"], NLOS_C, "square-open", 5.5)]:
        xs = np.linspace(span[0], span[1], len(vals))
        fig.add_trace(go.Scatter(
            x=xs, y=vals, mode="lines+markers", xaxis=xa, yaxis=ya, cliponaxis=False,
            line=dict(color=color, width=1.1),
            marker=dict(symbol=symbol, size=size, color=color, line=dict(width=1.3, color=color)),
            hoverinfo="skip"))

    axis_common = dict(showline=True, linecolor="#111111", linewidth=1.6, mirror=True,
                       showgrid=False, zeroline=False, ticks="inside", ticklen=5,
                       tickwidth=1, tickcolor="#111111", tickfont=tick_font, automargin=False)
    layout["xaxis" if n == 1 else f"xaxis{n}"] = dict(
        domain=[fx(x0), fx(x1)], range=p["xr"], anchor=ya,
        tickmode="array", tickvals=p["xt"], ticktext=p["xtt"], ticklabelstandoff=0, **axis_common)
    layout["yaxis" if n == 1 else f"yaxis{n}"] = dict(
        domain=[fy(y1), fy(y0)], range=p["yr"], anchor=xa,
        tickmode="array", tickvals=p["yt"], ticktext=p["ytt"], ticklabelstandoff=-3, **axis_common)

    # axis title, caption and PDF label
    fig.add_annotation(xref="paper", yref="paper", x=fx(p["title_xy"][0]), y=fy(p["title_xy"][1]),
                       text=p["title"], showarrow=False, xanchor="center", yanchor="middle", font=text_font)
    fig.add_annotation(xref="paper", yref="paper", x=fx(p["cap_xy"][0]), y=fy(p["cap_xy"][1]),
                       text=p["cap"], showarrow=False, xanchor="center", yanchor="middle", font=text_font)
    fig.add_annotation(xref="paper", yref="paper", x=fx(p["pdf_x"]), y=fy((y0 + y1) / 2),
                       text="PDF", textangle=-90, showarrow=False, xanchor="center", yanchor="middle",
                       font=dict(family=SERIF, size=19, color=TXT))

    # last x tick label sitting at the right frame edge
    if p["edge"] is not None:
        txt, cx = p["edge"]
        fig.add_annotation(xref="paper", yref="paper", x=fx(cx), y=fy(y1 + 19),
                           text=txt, showarrow=False, xanchor="center", yanchor="middle", font=tick_font)

    # boxed legend
    if p["legend"] is not None:
        L, T = p["legend"]
        lw, lh = 127.5, 55.0
        fig.add_shape(type="rect", xref="paper", yref="paper", x0=fx(L), x1=fx(L + lw),
                      y0=fy(T + lh), y1=fy(T), line=dict(color="#111111", width=1.5),
                      fillcolor="white", layer="above")
        for dy, color, kind, name in [(16.5, LOS_C, "circle", "LoS"), (39.3, NLOS_C, "rect", "NLoS")]:
            fig.add_shape(type="line", xref="paper", yref="paper", x0=fx(L + 7.7), x1=fx(L + 62.7),
                          y0=fy(T + dy), y1=fy(T + dy), line=dict(color=color, width=1.2), layer="above")
            r = 3.3 if kind == "circle" else 2.8
            fig.add_shape(type=kind, xref="paper", yref="paper", x0=fx(L + 34.3 - r), x1=fx(L + 34.3 + r),
                          y0=fy(T + dy + r), y1=fy(T + dy - r), line=dict(color=color, width=1.3),
                          fillcolor="white", layer="above")
            fig.add_annotation(xref="paper", yref="paper", x=fx(L + 68.3), y=fy(T + dy), text=name,
                               showarrow=False, xanchor="left", yanchor="middle",
                               font=dict(family=SERIF, size=20, color=TXT))

fig.update_layout(**layout)
fig.write_html("out.html", include_plotlyjs=True, full_html=True, config={"displayModeBar": False})
